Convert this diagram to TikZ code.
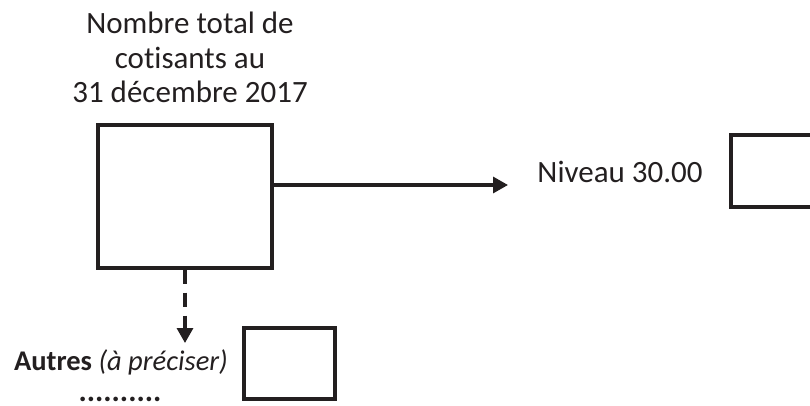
\documentclass[tikz,border=0pt]{standalone}
\usepackage{fontspec}
\setmainfont[Ligatures=NoCommon]{Carlito}
\usetikzlibrary{arrows.meta}
\definecolor{ink}{HTML}{231F20}
\tikzset{
  boxx/.style={draw=ink, line width=3.3pt, inner sep=0pt},
  lbl/.style={text=ink, inner sep=0pt, font=\fontsize{31}{35}\selectfont},
  conn/.style={draw=ink, line width=3.3pt, -{Triangle[length=15pt,width=16pt]}},
}
\begin{document}
\begin{tikzpicture}[x=1pt,y=-1pt]
\useasboundingbox (0,0) rectangle (810,405);
% top label
\node[lbl, anchor=base] (t1) at (190,33) {Nombre total de};
\node[lbl, anchor=base] (t2) at (190,68) {cotisants au};
\node[lbl, anchor=base] (t3) at (190,102) {31 décembre 2017};
% main box
\node[boxx, minimum width=174pt, minimum height=143pt] (box1) at (185,196.5) {};
% right box (cut by the edge)
\node[boxx, minimum width=92pt, minimum height=72pt] (box2) at (777,171) {};
\node[lbl, anchor=base] (niv) at (620,182) {Niveau 30.00};
% lower box
\node[boxx, minimum width=91pt, minimum height=71pt] (box3) at (289.5,363.5) {};
\node[lbl, anchor=base east, font=\fontsize{28.5}{34}\selectfont] (aut) at (228,370) {\textbf{Autres} \textit{(à préciser)}};
\node[lbl, anchor=base] (dots) at (120,401) {\textbf{..........}};
% connectors
\coordinate (tip1) at (508,185);
\coordinate (tip2) at (185,343);
\draw[conn] (box1.east |- tip1) -- (tip1);
\draw[conn, dash pattern=on 14pt off 9pt] (box1.south) -- (tip2);
\end{tikzpicture}
\end{document}
